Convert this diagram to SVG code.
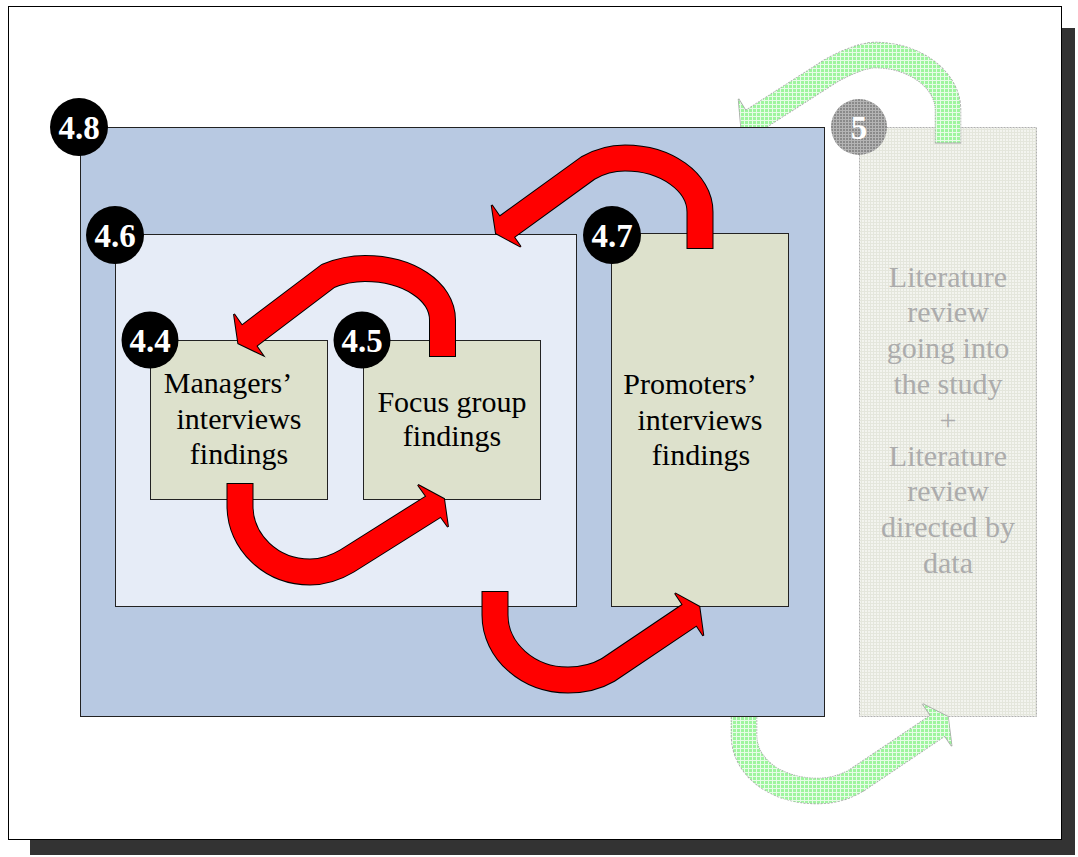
<svg xmlns="http://www.w3.org/2000/svg" width="1078" height="857" viewBox="0 0 1078 857">
<defs>
<style>
.lbl{font-family:"Liberation Serif","Times New Roman",serif;font-size:30px;fill:#000;text-anchor:middle}
.lit{font-family:"Liberation Serif","Times New Roman",serif;font-size:30px;fill:#acacac;text-anchor:middle}
.badge circle{fill:#000}
.badge text{font-family:"Liberation Serif","Times New Roman",serif;font-weight:bold;font-size:33px;fill:#fff;text-anchor:middle}
.box{stroke:#222;stroke-width:1}
.r-out{fill:none;stroke:#000;stroke-width:27}
.r-in{fill:none;stroke:#f00;stroke-width:25}
.rh-out{fill:#000;stroke:#000;stroke-width:2;stroke-linejoin:miter}
.rh-in{fill:#f00}
.g-out{fill:none;stroke:#a8a8a8;stroke-width:26.5;stroke-dasharray:2 1}
.g-in{fill:none;stroke:url(#greenPat);stroke-width:25}
.gh-out{fill:#a8a8a8;stroke:#a8a8a8;stroke-width:1.5}
.gh-in{fill:url(#greenPat)}
</style>
<pattern id="greenPat" width="4" height="4" patternUnits="userSpaceOnUse">
<rect width="4" height="4" fill="#9ef59e"/>
<path d="M0,0.5H4M0.5,0V4" stroke="#fff" stroke-width="1" opacity="0.75"/>
</pattern>
<pattern id="greyPat" width="3" height="3" patternUnits="userSpaceOnUse">
<rect width="3" height="3" fill="#f3f4ef"/>
<path d="M0,0.5H3M0.5,0V3" stroke="#e4e6dc" stroke-width="1"/>
</pattern>
<pattern id="dotPat" width="3" height="3" patternUnits="userSpaceOnUse">
<rect width="3" height="3" fill="#b4b4b4"/>
<rect width="2" height="2" fill="#8a8a8a"/>
</pattern>
<clipPath id="outside48">
<path clip-rule="evenodd" d="M0,0H1078V857H0Z M80,127V717H824V127Z"/>
</clipPath>
</defs>

<g id="frame">
<rect x="30" y="28" width="1045" height="827" fill="#333"/>
<rect x="8.5" y="6.5" width="1053" height="833" fill="#fff" stroke="#000" stroke-width="1"/>
</g>

<g id="node-5">
<rect x="859.5" y="127.5" width="177" height="589" fill="url(#greyPat)" stroke="#b0b0b0" stroke-width="1" stroke-dasharray="2 1"/>
<text class="lit" x="948" y="286.5">Literature</text>
<text class="lit" x="948" y="322.3">review</text>
<text class="lit" x="948" y="358.1">going into</text>
<text class="lit" x="948" y="393.9">the study</text>
<text class="lit" x="948" y="429.7">+</text>
<text class="lit" x="948" y="465.5">Literature</text>
<text class="lit" x="948" y="501.3">review</text>
<text class="lit" x="948" y="537.1">directed by</text>
<text class="lit" x="948" y="572.9">data</text>
<g class="badge"><circle cx="859" cy="127" r="28" style="fill:url(#dotPat)"/><text x="859" y="138.5">5</text></g>
</g>

<g id="node-4-8">
<rect class="box" x="80.5" y="127.5" width="744" height="589" fill="#b8c9e2"/>
<g class="badge"><circle cx="79" cy="127" r="29"/><text x="79" y="138.5">4.8</text></g>
</g>

<g id="node-4-6">
<rect class="box" x="115.5" y="234.5" width="461" height="372" fill="#e6ecf7"/>
<g class="badge"><circle cx="115" cy="235" r="29"/><text x="115" y="246.5">4.6</text></g>
</g>

<g id="node-4-7">
<rect class="box" x="611.5" y="233.5" width="177" height="373" fill="#dde1cc"/>
<text class="lbl" x="690" y="394">Promoters’</text>
<text class="lbl" x="700" y="430">interviews</text>
<text class="lbl" x="701" y="465">findings</text>
<g class="badge"><circle cx="612" cy="235" r="29"/><text x="612" y="246.5">4.7</text></g>
</g>

<g id="node-4-4">
<rect class="box" x="150.5" y="340.5" width="177" height="159" fill="#dde1cc"/>
<text class="lbl" x="228" y="393">Managers’</text>
<text class="lbl" x="239" y="429">interviews</text>
<text class="lbl" x="239" y="464">findings</text>
<g class="badge"><circle cx="150" cy="340" r="28.5"/><text x="150" y="351.5">4.4</text></g>
</g>

<g id="node-4-5">
<rect class="box" x="363.5" y="340.5" width="177" height="159" fill="#dde1cc"/>
<text class="lbl" x="452" y="412">Focus group</text>
<text class="lbl" x="452" y="446">findings</text>
<g class="badge"><circle cx="362" cy="340" r="28.5"/><text x="362" y="351.5">4.5</text></g>
</g>

<g id="connectors">
<g id="green-arrows" clip-path="url(#outside48)">
<g id="arrow-5-to-4-8">
<path class="g-out" d="M948,143.5 L948,110 C948,80 915,55 875,55 C862,55 839,65.6 829,72 L751,122"/>
<polygon class="gh-out" points="738.5,99 741,127 765,142"/>
<path class="g-in" d="M948,142.5 L948,110 C948,80 915,55 875,55 C862,55 839,65.6 829,72 L751,122"/>
<polygon class="gh-in" points="738.5,99 741,127 765,142"/>
</g>
<g id="arrow-4-8-to-5">
<path class="g-out" d="M744,705 L744,735 C744,768 777,791 817,791 C832,791 846,787 857,780 L940.8,723.6"/>
<polygon class="gh-out" points="922.7,704 948,716.7 951.7,746"/>
<path class="g-in" d="M744,705 L744,735 C744,768 777,791 817,791 C832,791 846,787 857,780 L940.8,723.6"/>
<polygon class="gh-in" points="922.7,704 948,716.7 951.7,746"/>
</g>
</g>
<g id="arrow-4-7-to-4-6">
<path class="r-out" d="M700,249 L700,212 C700,182 666,158 625,158 C612,158 600,161 588,168 L505.5,227.8"/>
<polygon class="rh-out" points="491.7,205 496,233.3 520.7,246.7"/>
<path class="r-in" d="M700,248 L700,212 C700,182 666,158 625,158 C612,158 600,161 588,168 L505.5,227.8"/>
<polygon class="rh-in" points="491.7,205 496,233.3 520.7,246.7"/>
</g>
<g id="arrow-4-5-to-4-4">
<path class="r-out" d="M442.5,357 L442.5,320 C442.5,291 408,268.5 365,268.5 C352,268.5 340,271 328,276 L246.5,337.7"/>
<polygon class="rh-out" points="234,314 238.3,343.3 262.7,355"/>
<path class="r-in" d="M442.5,356 L442.5,320 C442.5,291 408,268.5 365,268.5 C352,268.5 340,271 328,276 L246.5,337.7"/>
<polygon class="rh-in" points="234,314 238.3,343.3 262.7,355"/>
</g>
<g id="arrow-4-4-to-4-5">
<path class="r-out" d="M240,483 L240,506 C240,542 271,572 310,572 C325,572 337,567 347,561 L437,504.3"/>
<polygon class="rh-out" points="418,485 444,499 448,527"/>
<path class="r-in" d="M240,484 L240,506 C240,542 271,572 310,572 C325,572 337,567 347,561 L437,504.3"/>
<polygon class="rh-in" points="418,485 444,499 448,527"/>
</g>
<g id="arrow-4-6-to-4-7">
<path class="r-out" d="M495,591 L495,615 C495,651 528,680 568,680 C583,680 596,677 608,670 L692.2,613.3"/>
<polygon class="rh-out" points="675,593.3 699.3,606.7 703.3,635.7"/>
<path class="r-in" d="M495,592 L495,615 C495,651 528,680 568,680 C583,680 596,677 608,670 L692.2,613.3"/>
<polygon class="rh-in" points="675,593.3 699.3,606.7 703.3,635.7"/>
</g>
</g>
</svg>
